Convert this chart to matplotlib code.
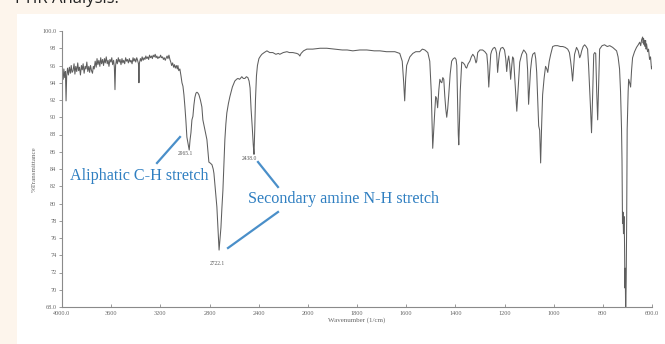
import numpy as np
import matplotlib.pyplot as plt
from matplotlib.patches import Rectangle
from matplotlib.lines import Line2D

# FTIR spectrum, wavenumber (1/cm) vs %transmittance
wavenumber = [
    4000, 3990, 3985, 3978, 3972, 3967, 3962, 3955, 3948, 3940, 3932, 3925, 3918, 3910,
    3902, 3895, 3888, 3880, 3872, 3865, 3858, 3850, 3842, 3835, 3828, 3820, 3812, 3805,
    3798, 3790, 3782, 3775, 3768, 3760, 3752, 3745, 3738, 3730, 3722, 3715, 3708, 3700,
    3692, 3685, 3678, 3670, 3662, 3655, 3648, 3640, 3632, 3625, 3618, 3610, 3602, 3595,
    3588, 3580, 3574, 3569, 3564, 3557, 3550, 3542, 3535, 3528, 3520, 3512, 3505, 3498,
    3490, 3482, 3475, 3468, 3460, 3452, 3445, 3438, 3430, 3422, 3415, 3408, 3400, 3392,
    3385, 3378, 3374, 3370, 3362, 3355, 3348, 3340, 3332, 3325, 3318, 3310, 3302, 3295,
    3288, 3280, 3272, 3265, 3258, 3250, 3242, 3235, 3228, 3220, 3212, 3205, 3198, 3190,
    3182, 3175, 3168, 3160, 3152, 3145, 3138, 3130, 3122, 3115, 3108, 3100, 3092, 3085,
    3078, 3070, 3062, 3057, 3050, 3041, 3032, 3024, 3016, 3008, 3000, 2992, 2984, 2975,
    2965.1, 2958, 2951, 2943, 2935, 2927, 2919, 2910, 2902, 2894, 2886, 2874, 2862, 2854,
    2838, 2821, 2812, 2805, 2795, 2780, 2770, 2764, 2752, 2740, 2730, 2722.1, 2715, 2707,
    2699, 2691, 2683, 2675, 2667, 2659, 2646, 2634, 2614, 2594, 2580, 2569, 2555, 2537,
    2525, 2512, 2500, 2488, 2478, 2470, 2462, 2452, 2444, 2438.0, 2432, 2426, 2418, 2410,
    2398, 2385, 2374, 2355, 2333, 2310, 2285, 2260, 2240, 2228, 2200, 2170, 2150, 2122,
    2090, 2075, 2065, 2055, 2035, 2008, 1980, 1950, 1923, 1890, 1860, 1840, 1817, 1789,
    1760, 1730, 1707, 1680, 1646, 1626, 1616, 1610, 1606, 1602, 1598, 1585, 1573, 1561,
    1545, 1534, 1524, 1512, 1504, 1498, 1494, 1492, 1489, 1484, 1480, 1476, 1472, 1467,
    1463, 1459, 1455, 1451, 1447, 1443, 1439, 1435, 1431, 1427, 1421, 1415, 1408, 1402,
    1397, 1394, 1391, 1388, 1386, 1383, 1380, 1374, 1368, 1362, 1358, 1354, 1348, 1341,
    1335, 1329, 1322, 1316, 1313, 1309, 1300, 1289, 1280, 1272, 1268, 1264, 1260, 1256,
    1252, 1246, 1240, 1236, 1232, 1228, 1224, 1220, 1215, 1207, 1200, 1195, 1191, 1187,
    1183, 1179, 1175, 1171, 1167, 1163, 1159, 1155, 1150, 1146, 1142, 1138, 1130, 1122,
    1116, 1110, 1106, 1102, 1098, 1094, 1089, 1085, 1077, 1073, 1069, 1065, 1061, 1057,
    1053, 1049, 1045, 1039, 1033, 1028, 1024, 1018, 1012, 1004, 995, 984, 973, 963,
    953, 943, 936, 931, 927, 923, 919, 915, 907, 900, 894, 890, 886, 880,
    874, 868, 862, 858, 854, 850, 846, 842, 837, 833, 829, 825, 821, 817,
    813, 803, 793, 782, 772, 760, 752, 744, 738, 732, 728, 724, 722, 720,
    718, 716, 714, 712, 710, 709, 707, 705, 703, 701, 697, 695, 691, 687,
    683, 679, 671, 663, 656, 650, 646, 642, 638, 636, 634, 632, 630, 628,
    626, 624, 622, 618, 614, 610, 606, 602, 600,
]
transmittance = [
    95.0, 94.4, 95.6, 94.6, 95.3, 91.9, 94.8, 95.7, 94.9, 95.8, 95.1, 96.0, 95.2, 95.4,
    96.2, 95.0, 95.9, 95.3, 96.3, 95.4, 95.8, 94.9, 96.0, 95.5, 96.2, 95.1, 95.9, 95.6,
    96.4, 95.3, 95.9, 95.2, 96.0, 95.4, 95.1, 95.9, 95.6, 96.5, 95.8, 96.8, 96.1, 96.6,
    95.9, 96.9, 96.2, 96.7, 96.0, 96.8, 96.3, 97.0, 96.2, 96.6, 95.9, 96.7, 96.4, 96.9,
    96.1, 96.6, 95.8, 93.2, 96.0, 96.7, 96.2, 96.9, 96.4, 96.7, 96.1, 96.8, 96.3, 96.6,
    96.2, 96.9, 96.5, 96.7, 96.3, 96.8, 96.4, 96.6, 96.2, 96.9, 96.5, 96.8, 96.4, 96.9,
    96.6, 96.2, 94.0, 96.3, 96.8, 96.5, 97.0, 96.6, 96.9, 96.7, 97.1, 96.8, 97.0, 96.7,
    97.2, 96.9, 97.1, 96.8, 97.2, 97.0, 97.3, 96.9, 97.1, 96.8, 97.0, 96.9, 97.2, 96.9,
    97.0, 96.7, 96.9, 96.6, 96.9, 97.1, 96.8, 97.2, 96.7, 96.4, 96.0, 96.3, 95.8, 96.1,
    95.7, 96.0, 95.6, 96.0, 95.4, 95.6, 94.8, 94.0, 93.6, 92.6, 91.2, 89.6, 87.7, 87.0,
    86.2, 87.4, 88.2, 89.7, 90.1, 91.4, 92.3, 92.8, 92.9, 92.8, 92.6, 92.0, 91.2, 89.7,
    88.6, 87.4, 86.0, 84.8, 84.7, 84.5, 84.0, 83.5, 81.5, 79.6, 76.8, 74.6, 75.8, 77.2,
    79.5, 81.5, 84.5, 87.4, 89.2, 90.5, 91.6, 92.4, 93.5, 94.2, 94.4, 94.5, 94.4, 94.7,
    94.5, 94.5, 94.7, 94.6, 94.2, 93.4, 91.0, 88.8, 86.8, 85.7, 88.5, 92.0, 94.8, 96.0,
    96.8, 97.1, 97.3, 97.5, 97.7, 97.5, 97.5, 97.3, 97.4, 97.3, 97.5, 97.6, 97.5, 97.5,
    97.4, 97.3, 97.1, 97.4, 97.7, 97.9, 97.9, 98.0, 98.0, 97.9, 97.8, 97.8, 97.7, 97.8,
    97.8, 97.7, 97.7, 97.6, 97.6, 97.4, 96.5, 94.0, 91.9, 94.5, 96.0, 97.0, 97.4, 97.6,
    97.6, 97.9, 97.8, 97.5, 96.5, 93.0, 88.5, 86.4, 88.0, 90.5, 92.4, 92.2, 91.1, 93.2,
    94.4, 94.1, 94.0, 94.6, 94.4, 92.5, 91.0, 90.0, 91.0, 92.5, 95.0, 96.5, 96.8, 96.9,
    96.7, 96.0, 92.0, 88.0, 86.8, 89.5, 93.0, 96.4, 96.3, 96.1, 95.8, 95.7, 96.2, 96.5,
    97.0, 97.3, 97.0, 96.3, 96.5, 97.5, 97.8, 97.8, 97.6, 97.3, 96.0, 93.5, 95.5, 97.3,
    97.7, 98.0, 98.1, 97.9, 97.4, 95.2, 96.5, 97.5, 98.0, 98.1, 97.8, 96.8, 95.3, 96.5,
    97.1, 96.2, 94.4, 95.8, 97.0, 96.8, 95.0, 93.0, 90.7, 92.5, 94.5, 96.4, 97.3, 97.8,
    97.6, 97.3, 95.5, 91.5, 93.5, 95.5, 96.8, 97.3, 97.5, 96.8, 95.2, 92.0, 89.0, 88.5,
    84.7, 89.0, 92.6, 94.5, 95.9, 95.6, 95.2, 96.5, 97.3, 98.2, 98.3, 98.3, 98.2, 98.2,
    98.1, 97.9, 97.5, 96.5, 95.5, 94.2, 95.8, 97.3, 98.1, 97.7, 96.9, 97.2, 97.7, 98.2,
    98.4, 98.2, 97.9, 96.0, 93.5, 91.0, 88.2, 92.0, 97.3, 97.5, 97.4, 93.0, 89.7, 94.0,
    97.9, 98.3, 98.4, 98.2, 98.3, 98.1, 97.9, 97.7, 97.0, 95.6, 93.0, 88.7, 85.0, 77.7,
    79.0, 76.5, 78.5, 76.0, 70.2, 72.5, 67.0, 71.0, 78.0, 88.6, 93.0, 94.4, 94.0, 93.5,
    95.5, 96.9, 97.6, 98.1, 98.4, 98.7, 98.3, 99.0, 99.3, 98.6, 99.1, 98.4, 98.9, 98.2,
    98.9, 97.9, 98.5, 97.6, 97.9, 96.7, 97.0, 95.6, 95.8,
]

# labelled absorption bands
peak_wn = [2965.1, 2722.1, 2438.0]
peak_t = [86.2, 74.6, 85.7]
peak_offset = [(-3, -1), (-1, -8), (-3, -1)]

xticks = [4000, 3600, 3200, 2800, 2400, 2000, 1800, 1600, 1400, 1200, 1000, 800, 600]
xtick_labels = ['4000.0', '3600', '3200', '2800', '2400', '2000', '1800',
                '1600', '1400', '1200', '1000', '800', '600.0']
yticks = list(range(68, 101, 2))
ytick_labels = ['68.0'] + [str(v) for v in range(70, 100, 2)] + ['100.0']


# the spectrometer axis halves its scale below 2000 1/cm
def fwd(x):
    x = np.asarray(x, dtype=float)
    return np.where(x <= 2000, (x - 600) / 200, 7 + (x - 2000) / 400)


def inv(g):
    g = np.asarray(g, dtype=float)
    return np.where(g <= 7, 600 + 200 * g, 2000 + 400 * (g - 7))


fig = plt.figure(figsize=(6.65, 3.44), dpi=100, facecolor='#fdf5ec')
fig.patches.append(Rectangle((17 / 665, 0), 1, 1 - 14 / 344, transform=fig.transFigure,
                             facecolor='white', edgecolor='none', zorder=-5))
fig.text(15 / 665, 1 - 3 / 344, 'FTIR Analysis:', fontsize=12, color='#222222',
         family='Open Sans', va='baseline', ha='left')

ax = fig.add_axes([62 / 665, 1 - 307 / 344, 590 / 665, 276 / 344])
ax.set_facecolor('none')
ax.set_xscale('function', functions=(fwd, inv))
ax.plot(wavenumber, transmittance, color='#5e5e5e', lw=0.75)
ax.set_xlim(4000, 600)
ax.set_ylim(68, 100)

ax.set_xticks(xticks)
ax.set_xticklabels(xtick_labels)
ax.set_yticks(yticks)
ax.set_yticklabels(ytick_labels)
ax.minorticks_off()

for s in ['top', 'right']:
    ax.spines[s].set_visible(False)
for s in ['left', 'bottom']:
    ax.spines[s].set_color('#8a8a8a')
    ax.spines[s].set_linewidth(0.8)

ax.tick_params(axis='y', direction='out', length=2, width=0.6, color='#8a8a8a',
               labelcolor='#666666', labelsize=4.5, pad=2)
ax.tick_params(axis='x', direction='in', length=2, width=0.6, color='#8a8a8a',
               labelcolor='#666666', labelsize=4.5, pad=3)
for lab in ax.get_xticklabels() + ax.get_yticklabels():
    lab.set_family('Liberation Serif')

ax.set_xlabel('Wavenumber (1/cm)', fontsize=5, color='#666666',
              family='Liberation Serif', labelpad=1)
ax.set_ylabel('%Transmittance', fontsize=5, color='#666666',
              family='Liberation Serif', labelpad=4)

for wn, t, off in zip(peak_wn, peak_t, peak_offset):
    ax.annotate(f'{wn:.1f}', xy=(wn, t), xytext=off, textcoords='offset points',
                ha='center', va='top', fontsize=4, color='#555555',
                family='Liberation Serif')

# band callouts
blue = '#2f7fc1'
fig.text(70 / 665, 1 - 176 / 344, 'Aliphatic C-H stretch', fontsize=11.6, color=blue,
         family='Liberation Serif', va='center', ha='left')
fig.text(248 / 665, 1 - 199 / 344, 'Secondary amine N-H stretch', fontsize=11.6,
         color=blue, family='Liberation Serif', va='center', ha='left')
for (x0, y0), (x1, y1) in [((157, 163), (180, 137)),
                           ((258, 162), (278, 187)),
                           ((228, 248), (278, 212))]:
    fig.add_artist(Line2D([x0 / 665, x1 / 665], [1 - y0 / 344, 1 - y1 / 344],
                          transform=fig.transFigure, color='#4a8fc9', lw=1.6))

fig.savefig('out.png', dpi=100, facecolor=fig.get_facecolor())
